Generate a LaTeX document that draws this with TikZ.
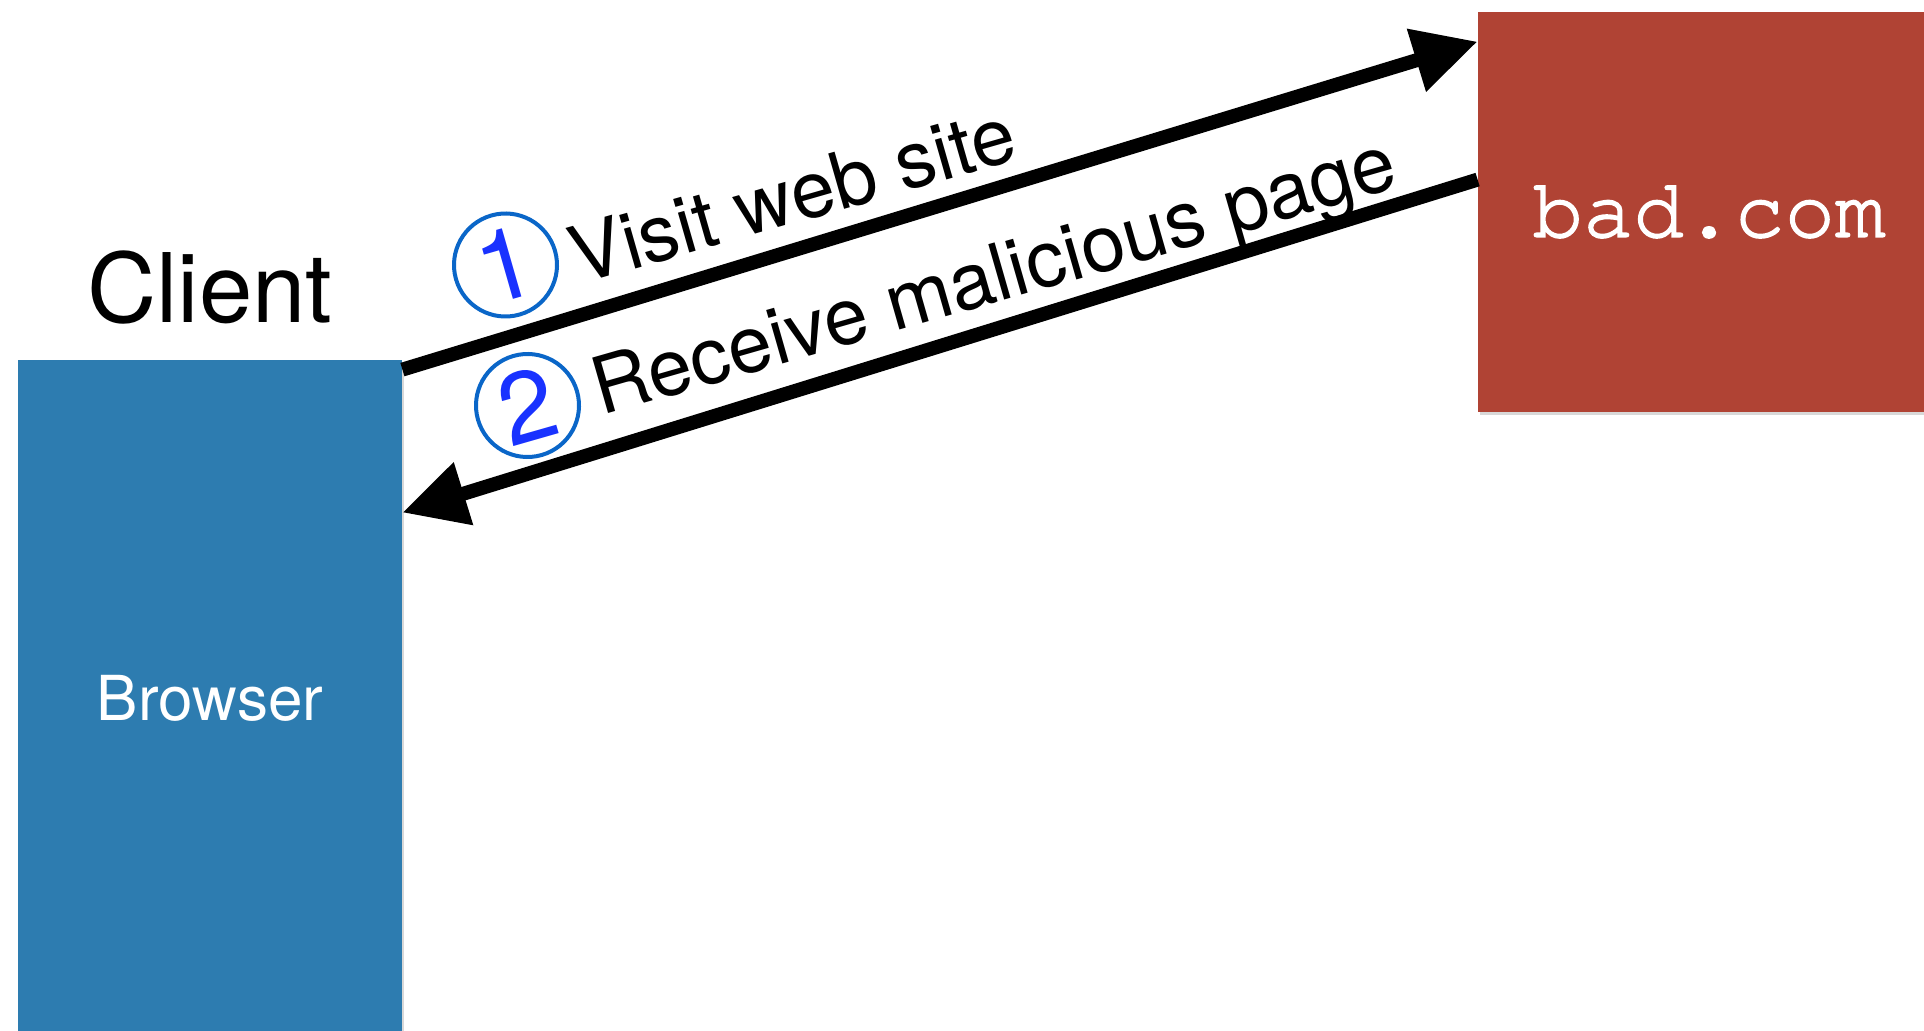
\documentclass[tikz,border=0pt]{standalone}
\usepackage{fontspec}
\setmainfont{TeX Gyre Heros}
\newfontfamily\codefont[FakeBold=2]{TeX Gyre Cursor}
\usetikzlibrary{arrows.meta,shadows}
\definecolor{boxblue}{HTML}{2D7CB0}
\definecolor{boxred}{HTML}{B04334}
\definecolor{ringblue}{HTML}{0A66C8}
\definecolor{digitblue}{HTML}{1932FF}
\tikzset{
  panel/.style={rectangle, inner sep=0pt, draw=none,
    drop shadow={shadow xshift=1pt, shadow yshift=-1.5pt, opacity=0.3}},
  flow/.style={line width=7pt, draw=black,
    -{Triangle[length=32pt, width=31pt]}},
  stepmark/.style={circle, draw=ringblue, line width=2pt, minimum size=51.5pt,
    inner sep=0pt, text=digitblue, font=\fontsize{50pt}{50pt}\selectfont, rotate=16},
  steplabel/.style={anchor=base west, inner sep=0pt, rotate=16,
    font=\fontsize{39.5pt}{39.5pt}\selectfont}
}
\begin{document}
\begin{tikzpicture}[x=0.5pt, y=0.5pt]
\useasboundingbox (0,0) rectangle (1924,1030);
\clip (0,0) rectangle (1924,1030);
\fill[white] (0,0) rectangle (1924,1030);

% boxes
\node[panel, fill=boxblue, minimum width=192pt, minimum height=338pt,
      text=white, font=\fontsize{31pt}{31pt}\selectfont] (browser) at (210,332) {Browser};
\node[panel, fill=boxred, minimum width=231pt, minimum height=200pt,
      text=white, font=\codefont\fontsize{42pt}{42pt}\selectfont] (server) at (1709,818) {bad.com};

% title
\node[anchor=base, inner sep=0pt, font=\fontsize{48pt}{48pt}\selectfont] (client) at (210,707) {Client};

% connectors
\draw[flow] ([yshift=-5pt]browser.north east) -- ([yshift=-15pt]server.north west);
\draw[flow] ([yshift=-84pt]server.north west) -- ([yshift=-76.5pt]browser.north east);

% labels
\node[stepmark] (one) at (505.5,765) {1};
\node[steplabel] (visit) at (579,745) {Visit web site};
\node[stepmark] (two) at (527.5,624.5) {2};
\node[steplabel] (receive) at (601,614) {Receive malicious page};
\end{tikzpicture}
\end{document}
